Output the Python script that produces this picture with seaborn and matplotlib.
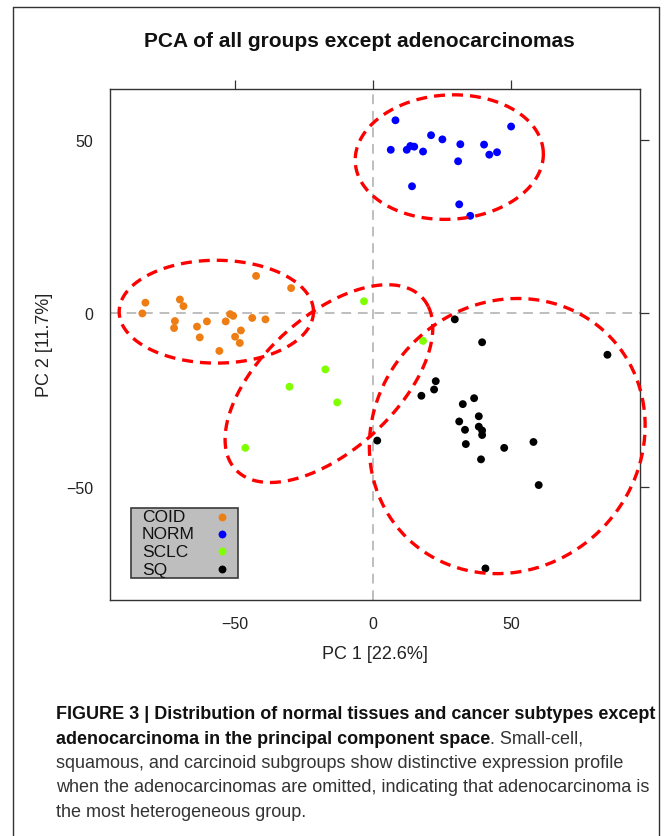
import numpy as np
import pandas as pd
import matplotlib
matplotlib.use('Agg')
import matplotlib.pyplot as plt
from matplotlib import font_manager
from matplotlib.patches import Rectangle
from matplotlib.lines import Line2D
import seaborn as sns

# groups and colours
groups = ['COID', 'NORM', 'SCLC', 'SQ']
group_colors = ['#EE7D14', '#0000FF', '#7FFF00', '#000000']

# sample scores
coid_x = [-42.3, -29.6, -82.4, -69.9, -68.6, -83.5, -71.7, -72.0, -63.7, -60.1,
          -62.7, -53.3, -51.7, -50.6, -43.7, -38.9, -47.8, -49.9, -48.2, -55.6]
coid_y = [10.8, 7.3, 3.1, 4.0, 2.1, 0.0, -2.2, -4.2, -3.8, -2.3,
          -6.9, -2.3, -0.2, -0.7, -1.3, -1.7, -4.9, -6.7, -8.5, -10.8]
norm_x = [8.2, 50.1, 21.1, 25.2, 31.7, 40.3, 6.5, 12.3, 13.6, 15.0, 18.2,
          42.2, 45.0, 30.9, 14.2, 31.3, 35.3]
norm_y = [55.6, 53.8, 51.3, 50.1, 48.7, 48.6, 47.1, 47.1, 48.2, 48.0, 46.6,
          45.7, 46.4, 43.8, 36.6, 31.4, 28.1]
sclc_x = [-3.2, -17.2, -30.2, -12.9, -46.2, 18.2]
sclc_y = [3.5, -16.1, -21.1, -25.6, -38.7, -7.9]
sq_x = [29.7, 39.6, 85.0, 22.8, 22.2, 17.6, 36.7, 32.6, 38.4, 31.3, 33.4,
        38.4, 39.6, 39.6, 33.7, 1.6, 47.6, 58.2, 39.2, 60.1, 40.8]
sq_y = [-1.7, -8.3, -11.9, -19.5, -21.9, -23.7, -24.4, -26.1, -29.6, -31.1, -33.5,
        -32.6, -33.7, -35.0, -37.6, -36.6, -38.7, -37.0, -42.0, -49.4, -73.4]

# group ellipses: centre, half axes, rotation (degrees, data units)
ell_cx = [27.7, -56.7, -15.9, 48.7]
ell_cy = [45.0, 0.5, -20.2, -35.3]
ell_a = [34.1, 35.2, 42.3, 50.2]
ell_b = [17.9, 14.8, 20.9, 39.3]
ell_angle = [2.0, 0.0, 31.7, 9.0]

x_ticks = [-50, 0, 50]
y_ticks = [-50, 0, 50]

title = 'PCA of all groups except adenocarcinomas'
caption_bold_1 = 'FIGURE 3 | Distribution of normal tissues and cancer subtypes except'
caption_bold_2 = 'adenocarcinoma in the principal component space'
caption_rest_2 = '. Small-cell,'
caption_lines = ['squamous, and carcinoid subgroups show distinctive expression profile',
                 'when the adenocarcinomas are omitted, indicating that adenocarcinoma is',
                 'the most heterogeneous group.']

df = pd.DataFrame({
    'PC1': coid_x + norm_x + sclc_x + sq_x,
    'PC2': coid_y + norm_y + sclc_y + sq_y,
    'group': ['COID'] * len(coid_x) + ['NORM'] * len(norm_x)
             + ['SCLC'] * len(sclc_x) + ['SQ'] * len(sq_x),
})

sns.set_style('white')
plt.rcParams['font.family'] = ['Liberation Sans', 'DejaVu Sans']

W, H = 671, 837
fig = plt.figure(figsize=(W / 100, H / 100), dpi=100)
ax = fig.add_axes([109.5 / W, 1 - 600.7 / H, 530.5 / W, 510.7 / H])

# reference lines
ax.axhline(0, color='#BEBEBE', lw=1.4, ls=(0, (5, 3.5)), zorder=1)
ax.axvline(0, color='#BEBEBE', lw=1.4, ls=(0, (5, 3.5)), zorder=1)

sns.scatterplot(data=df, x='PC1', y='PC2', hue='group', hue_order=groups,
                palette=dict(zip(groups, group_colors)), s=32, linewidth=0,
                legend=False, ax=ax, zorder=3)

t = np.linspace(0, 2 * np.pi, 400)
for cx, cy, a, b, ang in zip(ell_cx, ell_cy, ell_a, ell_b, ell_angle):
    th = np.deg2rad(ang)
    ex = cx + a * np.cos(t) * np.cos(th) - b * np.sin(t) * np.sin(th)
    ey = cy + a * np.cos(t) * np.sin(th) + b * np.sin(t) * np.cos(th)
    ax.plot(ex, ey, color='#FF0000', lw=2.4, ls=(0, (3.3, 2.1)), zorder=4,
            clip_on=False)

ax.set_xlim(-95.4, 96.8)
ax.set_ylim(-82.4, 64.6)
ax.set_xticks(x_ticks)
ax.set_yticks(y_ticks)
ax.tick_params(direction='out', length=6.5, width=0.9, color='#333333',
               top=True, right=True, labeltop=False, labelright=False,
               labelsize=11.5, pad=5, labelcolor='#222222')
for sp in ax.spines.values():
    sp.set_color('#333333')
    sp.set_linewidth(1.0)
ax.set_xlabel('PC 1 [22.6%]', fontsize=13, labelpad=10, color='#222222')
ax.set_ylabel('PC 2 [11.7%]', fontsize=13, labelpad=10, color='#222222')

# key box
ax.add_patch(Rectangle((0.0405, 0.0425), 0.2012, 0.1371, transform=ax.transAxes,
                       facecolor='#BEBEBE', edgecolor='#3A3A3A', lw=1.2, zorder=5))
key_y = [0.1625, 0.1288, 0.0947, 0.0600]
for g, c, ky in zip(groups, group_colors, key_y):
    ax.text(0.0607, ky, g, transform=ax.transAxes, fontsize=12.5, va='center',
            ha='left', color='#111111', zorder=6)
    ax.scatter([0.2126], [ky], transform=ax.transAxes, s=32, color=c,
               linewidths=0, zorder=6, clip_on=False)

fig.text(359.4 / W, 1 - 46.7 / H, title, ha='center', va='baseline',
         fontsize=15, fontweight='bold', color='#111111')

# outer frame
for xs, ys in [([13, 13], [8, H]), ([659, 659], [8, H]), ([13, 659], [8, 8])]:
    fig.add_artist(Line2D([x / W for x in xs], [1 - y / H for y in ys],
                          transform=fig.transFigure, color='#333333', lw=1.0))

# caption
cap_family = ['Liberation Sans Narrow', 'Liberation Sans']
try:
    font_manager.findfont('Liberation Sans Narrow', fallback_to_default=False)
except Exception:
    cap_family = ['Liberation Sans']

fig.canvas.draw()
r = fig.canvas.get_renderer()
probe = fig.text(0, 0, caption_bold_1, fontsize=12, fontweight='bold', family=cap_family)
w12 = probe.get_window_extent(r).width
probe.remove()
cap_size = 12 * 596.0 / w12

x0 = 56 / W
base = [719.3, 743.7, 768.1, 792.5, 816.9]
fig.text(x0, 1 - base[0] / H, caption_bold_1, fontsize=cap_size, fontweight='bold',
         family=cap_family, va='baseline', color='#111111')
tb = fig.text(x0, 1 - base[1] / H, caption_bold_2, fontsize=cap_size, fontweight='bold',
              family=cap_family, va='baseline', color='#111111')
bw = tb.get_window_extent(r).width
fig.text(x0 + bw / W, 1 - base[1] / H, caption_rest_2, fontsize=cap_size,
         family=cap_family, va='baseline', color='#333333')
for ln, yb in zip(caption_lines, base[2:]):
    fig.text(x0, 1 - yb / H, ln, fontsize=cap_size, family=cap_family,
             va='baseline', color='#333333')

fig.savefig('out.png', dpi=100)
